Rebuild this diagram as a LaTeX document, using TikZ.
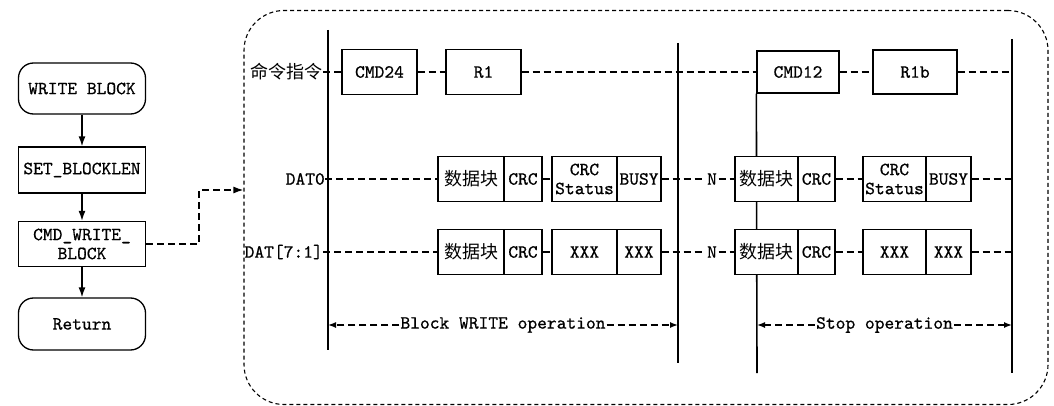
\documentclass[tikz,border=0pt]{standalone}
\usepackage{fontspec}
\newfontfamily\cjk{Noto Sans CJK SC}
\newfontfamily\mono{lmmono10-regular.otf}[FakeBold=0.7]
\usetikzlibrary{arrows.meta,backgrounds}
\newcommand{\mf}{\mono\fontsize{18.6}{19}\selectfont}
\newcommand{\cf}{\cjk\fontsize{18}{19}\selectfont}
\begin{document}
\begin{tikzpicture}[x=1pt,y=-1pt,
  box/.style={draw, line width=1.3pt, fill=white, inner sep=0pt, font=\mf, align=center},
  flowbox/.style={box, minimum width=127pt, minimum height=46pt},
  term/.style={flowbox, rounded corners=15pt, minimum height=51pt},
  cell/.style={box, minimum height=45pt},
  lbl/.style={inner sep=0pt, font=\mf},
  flow/.style={line width=1.4pt, -{Latex[length=10pt,width=7pt]}},
  sig/.style={line width=1.4pt, dash pattern=on 7pt off 4pt},
  conn/.style={sig, -{Latex[length=10pt,width=7pt]}},
  span/.style={sig, -{Latex[length=8pt,width=6pt]}},
  vline/.style={line width=1.6pt}
]
\useasboundingbox (0,0) rectangle (1054,406);

% flowchart
\node[term] (wb) at (82,88.5) {WRITE BLOCK};
\node[flowbox] (sb) at (82,170) {SET\_BLOCKLEN};
\node[flowbox, minimum height=45pt] (cw) at (82,244) {CMD\_WRITE\_\\BLOCK};
\node[term, minimum height=52pt] (ret) at (82,324) {Return};
\draw[flow] (wb) -- (sb);
\draw[flow] (sb) -- (cw);
\draw[flow] (cw) -- (ret);

% frame
\node[draw, line width=1.1pt, dash pattern=on 4pt off 3pt, rounded corners=40pt,
      minimum width=804pt, minimum height=394pt, inner sep=0pt] (frame) at (646,207.5) {};
\coordinate (bend) at (199,190);
\draw[conn] (cw.east) -| (bend) -- (bend -| frame.west);

% command row
\node[lbl, anchor=east] (cmdl) at (323,72) {\cf 命令指令};
\node[box, minimum width=75pt, minimum height=45pt] (cmd24) at (379.5,72) {CMD24};
\node[box, minimum width=75pt, minimum height=45pt] (r1) at (483.5,72) {R1};
\node[box, minimum width=82pt, minimum height=42pt] (cmd12) at (798,72) {CMD12};
\node[box, minimum width=84pt, minimum height=44pt] (r1b) at (915,72) {R1b};

% vertical line ends
\coordinate (v1t) at (328,30);  \coordinate (v1b) at (328,350);
\coordinate (v2t) at (678,43);  \coordinate (v2b) at (678,363);
\coordinate (v3b) at (757,373);
\coordinate (v4t) at (1012,39); \coordinate (v4b) at (1012,373);

% DAT0 row
\node[lbl, anchor=east] (dat0) at (325,179) {DAT0};
\node[cell, minimum width=66pt] (d1) at (471,179) {\cf 数据块};
\node[cell, minimum width=38pt] (c1) at (523,179) {CRC};
\node[cell, minimum width=65pt] (s1) at (584.5,179) {CRC\\Status};
\node[cell, minimum width=44pt] (b1) at (639,179) {BUSY};
\node[lbl, inner sep=1.5pt] (n1) at (712,179) {N};
\node[cell, minimum width=63pt] (d2) at (766.5,179) {\cf 数据块};
\node[cell, minimum width=37pt] (c2) at (816.5,179) {CRC};
\node[cell, minimum width=63pt] (s2) at (894.5,179) {CRC\\Status};
\node[cell, minimum width=45pt] (b2) at (948.5,179) {BUSY};

% DAT[7:1] row
\node[lbl, anchor=east] (dat7) at (323,252) {DAT[7:1]};
\node[cell, minimum width=66pt] (d3) at (471,252) {\cf 数据块};
\node[cell, minimum width=38pt] (c3) at (523,252) {CRC};
\node[cell, minimum width=65pt] (x1) at (584.5,252) {XXX};
\node[cell, minimum width=44pt] (x2) at (639,252) {XXX};
\node[lbl, inner sep=1.5pt] (n2) at (712,252) {N};
\node[cell, minimum width=63pt] (d4) at (766.5,252) {\cf 数据块};
\node[cell, minimum width=37pt] (c4) at (816.5,252) {CRC};
\node[cell, minimum width=63pt] (x3) at (894.5,252) {XXX};
\node[cell, minimum width=45pt] (x4) at (948.5,252) {XXX};

% operation spans
\coordinate (a1) at (328,325); \coordinate (a2) at (678,325);
\coordinate (a3) at (757,325); \coordinate (a4) at (1012,325);
\node[lbl, fill=white, inner sep=1pt] (op1) at (503,325) {Block WRITE operation};
\node[lbl, fill=white, inner sep=1pt] (op2) at (884.5,325) {Stop operation};
\draw[span] (op1) -- (a1);
\draw[span] (op1) -- (a2);
\draw[span] (op2) -- (a3);
\draw[span] (op2) -- (a4);

\begin{scope}[on background layer]
\draw[vline] (v1t) -- (v1b);
\draw[vline] (v2t) -- (v2b);
\draw[vline] (cmd12.south west) -- (v3b);
\draw[vline] (v4t) -- (v4b);
% signal lines
\draw[sig] (cmdl.east) -- (cmd24.west);
\draw[sig] (cmd24.east) -- (r1.west);
\draw[sig] (r1.east) -- (cmd12.west);
\draw[sig] (cmd12.east) -- (r1b.west);
\draw[sig] (r1b.east) -- (r1b.east -| v4t);
\draw[sig] (dat0.east) -- (d1.west);
\draw[sig] (c1.east) -- (s1.west);
\draw[sig] (b1.east) -- (n1.west);
\draw[sig] (n1.east) -- (d2.west);
\draw[sig] (c2.east) -- (s2.west);
\draw[sig] (b2.east) -- (b2.east -| v4t);
\draw[sig] (dat7.east) -- (d3.west);
\draw[sig] (c3.east) -- (x1.west);
\draw[sig] (x2.east) -- (n2.west);
\draw[sig] (n2.east) -- (d4.west);
\draw[sig] (c4.east) -- (x3.west);
\draw[sig] (x4.east) -- (x4.east -| v4t);
\end{scope}
\end{tikzpicture}
\end{document}
